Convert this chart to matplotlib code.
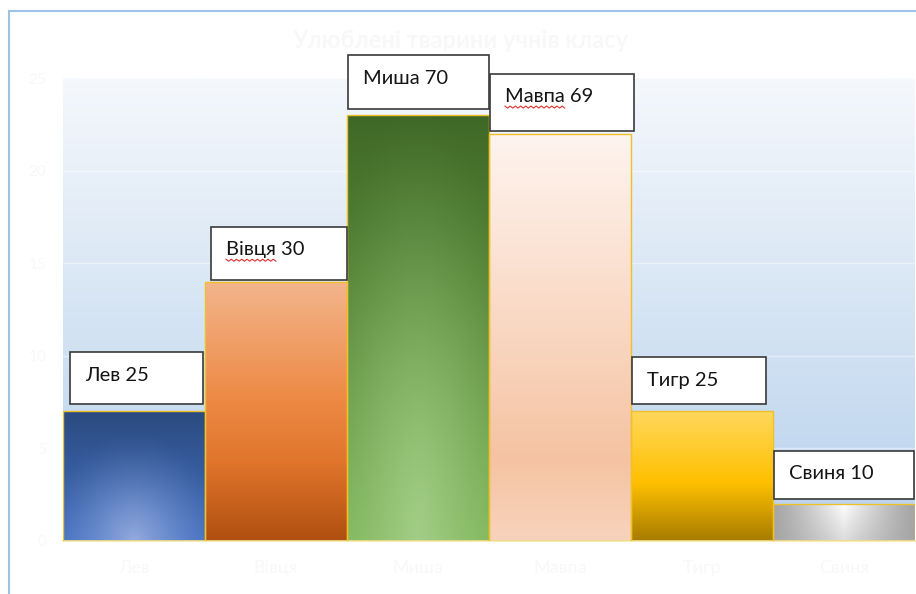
import numpy as np
import matplotlib
matplotlib.use("Agg")
import matplotlib.pyplot as plt
from matplotlib.patches import Rectangle
from matplotlib.lines import Line2D
from matplotlib.colors import to_rgb

# ---------------- data ----------------
categories = ["Лев", "Вівця", "Миша", "Мавпа", "Тигр", "Свиня"]
bar_values = [7, 14, 23, 22, 7, 2]
label_texts = ["Лев 25", "Вівця 30", "Миша 70", "Мавпа 69", "Тигр 25", "Свиня 10"]
y_ticks = [0, 5, 10, 15, 20, 25]
title_text = "Улюблені тварини учнів класу"

# ---------------- layout / style ----------------
W, H = 916, 594
plt.rcParams['font.family'] = ['Lato', 'DejaVu Sans']
fig = plt.figure(figsize=(W / 100, H / 100), dpi=100)
fig.patch.set_facecolor("white")

ax_left, ax_right, ax_top, ax_bottom = 63, 915, 78, 541
ax = fig.add_axes([ax_left / W, 1 - ax_bottom / H, (ax_right - ax_left) / W, (ax_bottom - ax_top) / H])
ax.set_xlim(-0.5, len(categories) - 0.5)
ax.set_ylim(0, 25)
for s in ax.spines.values():
    s.set_visible(False)
ax.spines['bottom'].set_visible(True)
ax.spines['bottom'].set_color("#f3e6a6")
ax.spines['bottom'].set_linewidth(1.2)

ppu_x = (ax_right - ax_left) / len(categories)
ppu_y = (ax_bottom - ax_top) / 25.0

faint = "#f8f8f8"

def vgrad(stops, n=256, width=1):
    pos = np.array([p for p, _ in stops])
    cols = np.array([to_rgb(c) for _, c in stops])
    t = np.linspace(0, 1, n)
    arr = np.stack([np.interp(t, pos, cols[:, k]) for k in range(3)], axis=-1)
    return np.repeat(arr[:, None, :], width, axis=1)

# plot-area background gradient
bg = vgrad([(0, "#f5f8fc"), (1, "#b7d1ec")])
ax.imshow(bg, extent=(0, 1, 0, 1), transform=ax.transAxes, aspect='auto', zorder=0,
          interpolation='bilinear')

# ticks and gridlines
ax.set_yticks(y_ticks)
ax.set_yticklabels([str(v) for v in y_ticks], color=faint, fontsize=11)
ax.tick_params(axis='y', length=0, pad=12)
ax.yaxis.grid(True, color="white", linewidth=1.0, alpha=0.45, zorder=1)
ax.set_axisbelow(True)
ax.set_xticks(range(len(categories)))
ax.set_xticklabels(categories, color=faint, fontsize=13)
ax.tick_params(axis='x', length=0, pad=14)

# bars
x = np.arange(len(categories))
bars = ax.bar(x, bar_values, width=1.0, color="none", edgecolor="#f0c02a", linewidth=1.0, zorder=3)

def radial(top, bottom, glow, cx=0.5, cy=1.0, r=0.6, n=200):
    base = vgrad([(0, top), (1, bottom)], n=n, width=n)
    yy, xx = np.mgrid[0:1:n * 1j, 0:1:n * 1j]
    d = np.sqrt(((xx - cx) / r) ** 2 + ((yy - cy) / (r * 1.3)) ** 2)
    w = np.clip(1 - d, 0, 1)[..., None] ** 1.5
    return base * (1 - w) + np.array(to_rgb(glow)) * w

def hgrad_center(edge, center_top, center_bottom, n=200):
    yy, xx = np.mgrid[0:1:n * 1j, 0:1:n * 1j]
    d = np.abs(xx - 0.5) / 0.5
    w = (1 - d) ** 1.2
    ctr = np.array(to_rgb(center_top)) * (1 - yy[..., None]) + np.array(to_rgb(center_bottom)) * yy[..., None]
    return np.array(to_rgb(edge)) * (1 - w[..., None]) + ctr * w[..., None]

fills = [
    radial("#2b4a80", "#4471c2", "#93aadd", r=0.65),
    vgrad([(0, "#f3b58c"), (0.45, "#ed8a45"), (0.7, "#e0752b"), (1, "#b04f10")]),
    radial("#3f6826", "#7cb655", "#a3cd88", r=0.8),
    vgrad([(0, "#fef4ef"), (0.5, "#f9d6c0"), (0.8, "#f5c3a2"), (1, "#f8d3bc")]),
    vgrad([(0, "#ffd75c"), (0.55, "#ffc000"), (1, "#a67b00")]),
    hgrad_center("#a5a5a5", "#ffffff", "#dcdcdc"),
]
for b, img in zip(bars, fills):
    x0, y0 = b.get_x(), b.get_y()
    im = ax.imshow(img, extent=(x0, x0 + b.get_width(), y0, y0 + b.get_height()),
                   aspect='auto', zorder=2, interpolation='bilinear')
    im.set_clip_path(b)

ax.set_xlim(-0.5, len(categories) - 0.5)
ax.set_ylim(0, 25)

# label boxes (pixel-based layout)
box_dx = [7, 6, 1, 1, 1, 1]
box_w = [133, 136, 141, 144, 134, 140]
box_gap = [7, 2, 6, 3, 7, 5]
box_h = [52, 53, 54, 57, 47, 48]
label_fs = 14.5
text_labels = []
for i, (v, lab) in enumerate(zip(bar_values, label_texts)):
    left = (i - 0.5) + box_dx[i] / ppu_x
    bottom = v + box_gap[i] / ppu_y
    w = box_w[i] / ppu_x
    h = box_h[i] / ppu_y
    ax.add_patch(Rectangle((left, bottom), w, h, facecolor="white", edgecolor="#3a3a3a",
                           linewidth=1.2, zorder=5, clip_on=False))
    t = ax.text(left + 15 / ppu_x, bottom + h - 23 / ppu_y, lab, fontsize=label_fs,
                color="#151515", ha='left', va='center', zorder=6, clip_on=False)
    text_labels.append(t)

# title (very faint)
fig.text(460 / W, 1 - 40 / H, title_text, ha='center', va='center', fontsize=17,
         color=faint, fontweight='bold')

# outer chart frame (left & top edges visible)
frame_col = "#9cc2e6"
fig.add_artist(Line2D([9 / W, 9 / W], [0, 1 - 11 / H], transform=fig.transFigure, color=frame_col, lw=1.5))
fig.add_artist(Line2D([9 / W, 1], [1 - 11 / H, 1 - 11 / H], transform=fig.transFigure, color=frame_col, lw=1.5))

# spell-check squiggles under some words
fig.canvas.draw()
renderer = fig.canvas.get_renderer()
for i in (1, 3):
    t = text_labels[i]
    word = label_texts[i].split()[0]
    tmp = ax.text(*t.get_position(), word, fontsize=label_fs, ha='left', va='center', alpha=0, clip_on=False)
    bb = tmp.get_window_extent(renderer)
    n = int((bb.x1 - bb.x0) / 2.5) + 1
    xs = np.linspace(bb.x0, bb.x1, n)
    ys = bb.y0 - 1 + np.where(np.arange(n) % 2 == 0, 0, -2.0)
    pts = fig.transFigure.inverted().transform(np.column_stack([xs, ys]))
    fig.add_artist(Line2D(pts[:, 0], pts[:, 1], transform=fig.transFigure, color="#e03030", lw=0.8, zorder=7))

fig.savefig("out.png", dpi=100, facecolor="white")
